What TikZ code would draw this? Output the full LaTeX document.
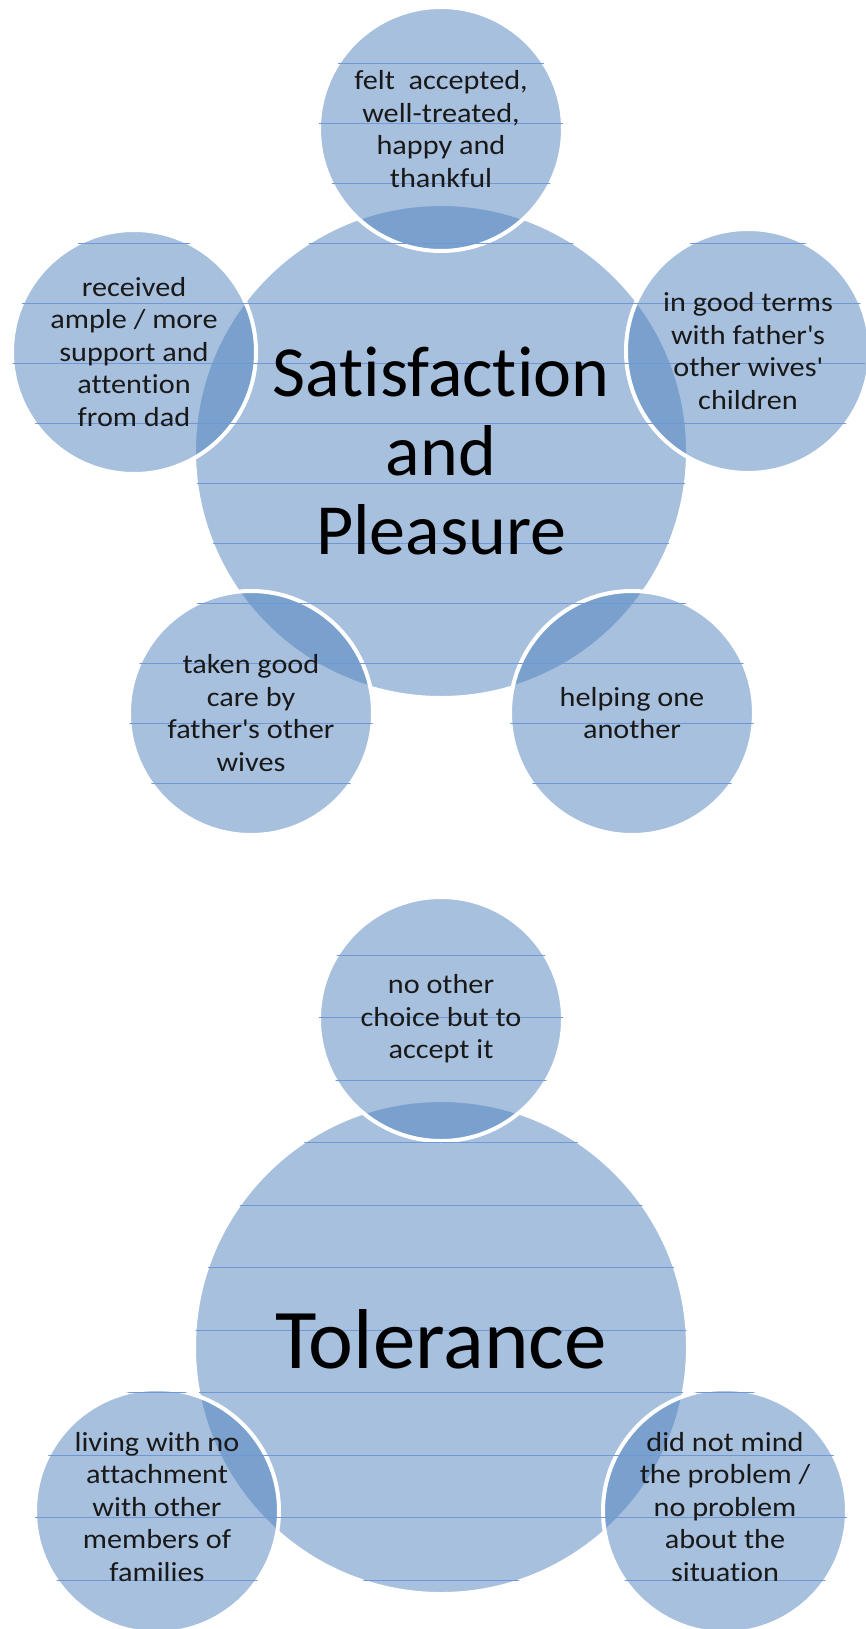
\documentclass[tikz,border=0pt]{standalone}
\usepackage{fontspec}
\setmainfont{Carlito}[Ligatures=NoCommon]
\newfontfamily\satfont{Carlito}[FakeStretch=1.1, Ligatures=NoCommon]
\usepackage{tikz}
\usepackage{xcolor}
\usetikzlibrary{positioning}

\definecolor{accent}{RGB}{79,129,189}
\definecolor{rule}{RGB}{112,152,212}
\newcommand{\apos}{\textquotesingle}

\begin{document}
\begin{tikzpicture}[x=1pt, y=-1pt,
    bigc/.style={circle, fill=accent, fill opacity=0.5, draw=white, line width=2pt, minimum size=492pt, inner sep=0pt},
    satc/.style={circle, fill=accent, fill opacity=0.5, draw=white, line width=4pt, minimum size=244pt, inner sep=0pt},
    sattxt/.style={align=center, text=black!90, font=\satfont\fontsize{27.5}{32.5}\selectfont},
    bigtxt/.style={align=center, text=black, font=\fontsize{72}{79}\selectfont}]
    \useasboundingbox (0,0) rectangle (865,1629);

    % Satisfaction and Pleasure
    \node[bigc] (sp) at (441,451) {};
    \node[satc] (felt) at (441,129) {};
    \node[satc] (ample) at (134,352) {};
    \node[satc] (terms) at (748,351) {};
    \node[satc] (care) at (251,713) {};
    \node[satc] (help) at (632,713) {};

    % ruled lines
    \begin{scope}
        \clip (441,451) circle[radius=246] (441,129) circle[radius=122]
              (134,352) circle[radius=122] (748,351) circle[radius=122]
              (251,713) circle[radius=122] (632,713) circle[radius=122];
        \foreach \y in {63,123,...,783}
            \draw[rule, line width=0.8pt] (0,\y) -- (865,\y);
    \end{scope}

    \node[bigtxt] (sptxt) at (sp) {Satisfaction\\and\\Pleasure};
    \node[sattxt] (felttxt) at (felt) {felt\ \ accepted,\\well-treated,\\happy and\\thankful};
    \node[sattxt] (ampletxt) at (ample) {received\\ample / more\\support and\\attention\\from dad};
    \node[sattxt] (termstxt) at (terms) {in good terms\\with father\apos s\\other wives\apos\\children};
    \node[sattxt] (caretxt) at (care) {taken good\\care by\\father\apos s other\\wives};
    \node[sattxt] (helptxt) at (help) {helping one\\another};

    % Tolerance
    \node[bigc] (tol) at (441,1347) {};
    \node[satc] (choice) at (441,1019) {};
    \node[satc] (attach) at (157,1511) {};
    \node[satc] (mind) at (725,1511) {};

    % ruled lines
    \begin{scope}
        \clip (441,1347) circle[radius=246] (441,1019) circle[radius=122]
              (157,1511) circle[radius=122] (725,1511) circle[radius=122];
        \foreach \y in {955,1017.5,...,1590}
            \draw[rule, line width=0.8pt] (0,\y) -- (865,\y);
    \end{scope}

    \node[bigtxt, font=\fontsize{85}{90}\selectfont] (toltxt) at (441,1339) {Tolerance};
    \node[sattxt] (choicetxt) at (choice) {no other\\choice but to\\accept it};
    \node[sattxt] (attachtxt) at ([yshift=4pt]attach) {living with no\\attachment\\with other\\members of\\families};
    \node[sattxt] (mindtxt) at ([yshift=4pt]mind) {did not mind\\the problem /\\no problem\\about the\\situation};
\end{tikzpicture}
\end{document}
